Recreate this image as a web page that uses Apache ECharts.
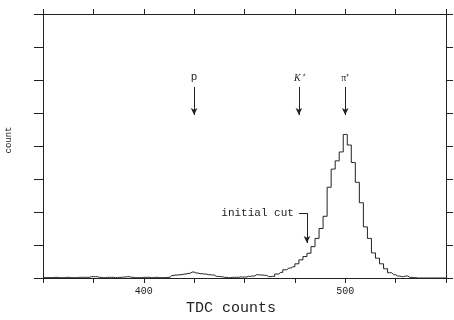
<!DOCTYPE html>
<html>
<head>
<meta charset="utf-8">
<script src="https://cdn.jsdelivr.net/npm/echarts@6/dist/echarts.min.js"></script>
<style>html,body{margin:0;padding:0;background:#fff}#c{width:454px;height:320px}</style>
</head>
<body>
<div id="c"></div>
<script>
// TDC bin centres (2 counts wide)
const tdcBins = [350,352,354,356,358,360,362,364,366,368,370,372,374,376,378,380,382,384,386,388,
  390,392,394,396,398,400,402,404,406,408,410,412,414,416,418,420,422,424,426,428,
  430,432,434,436,438,440,442,444,446,448,450,452,454,456,458,460,462,464,466,468,
  470,472,474,476,478,480,482,484,486,488,490,492,494,496,498,500,502,504,506,508,
  510,512,514,516,518,520,522,524,526,528,530,532,534,536,538,540,542,544,546,548,550];
// counts per bin (arbitrary units, one y tick = 100)
const counts = [1,1,1,2,1,1,2,1,1,2,2,2,4,4,2,1,2,2,1,2,
  3,4,2,1,1,2,2,1,2,1,1,2,8,9,10,12,14,18,15,13,
  12,10,9,5,4,2,1,2,2,3,3,5,6,10,9,8,4,5,12,17,
  25,30,34,43,55,65,75,95,120,150,187,275,330,355,382,435,403,350,290,228,
  155,120,76,60,43,28,16,10,6,4,6,2,1,0,0,0,0,0,0,0,0];
const xTickLabels = [400, 500];

// particle markers: [label, x]
const markerNames = ['p', 'K\u207A', '\u03C0\u207A'];
const markerX = [425, 477, 500];
const arrowTopY = 579, arrowTipY = 494;
// "initial cut" annotation
const cutText = 'initial cut';
const cutLine = [[477, 197], [481, 197], [481, 106]];

const ink = '#222';
const mono = '"Liberation Mono", "DejaVu Sans Mono", monospace';

const markData = markerNames.map((n, i) => [
  {coord: [markerX[i], arrowTopY], symbol: 'none',
   label: {show: true, position: 'start', formatter: n, distance: 4,
     color: ink, fontSize: i === 0 ? 11 : 10,
     fontFamily: i === 0 ? mono : '"Liberation Serif", serif',
     fontStyle: i === 1 ? 'italic' : 'normal'}},
  {coord: [markerX[i], arrowTipY], symbol: 'arrow'}
]);
markData.push([
  {coord: cutLine[0], symbol: 'none',
   label: {show: true, position: 'start', formatter: cutText, distance: 5,
     color: ink, fontSize: 11, fontFamily: mono}},
  {coord: cutLine[1], symbol: 'none'}
]);
markData.push([
  {coord: cutLine[1], symbol: 'none', label: {show: false}},
  {coord: cutLine[2], symbol: 'arrow'}
]);

const chart = echarts.init(document.getElementById('c'), null, {renderer: 'canvas'});
const axisLineStyle = {color: ink, width: 1};
chart.setOption({
  animation: false,
  backgroundColor: '#fff',
  grid: {left: 43, right: 8, top: 14, bottom: 42, containLabel: false, outerBoundsMode: 'none'},
  xAxis: [{
    type: 'value', min: 350, max: 550, interval: 25, position: 'bottom',
    axisLine: {show: true, onZero: false, lineStyle: axisLineStyle},
    axisTick: {show: true, inside: false, length: 5, lineStyle: axisLineStyle},
    splitLine: {show: false},
    axisLabel: {margin: 8, fontSize: 10, fontFamily: mono, color: ink,
      formatter: v => xTickLabels.indexOf(v) >= 0 ? String(v) : ''},
    name: 'TDC counts', nameLocation: 'middle', nameGap: 22,
    nameTextStyle: {fontSize: 15, fontFamily: mono, color: ink, padding: [0, 27, 0, 0]}
  }, {
    type: 'value', min: 350, max: 550, interval: 25, position: 'top',
    axisLine: {show: true, onZero: false, lineStyle: axisLineStyle},
    axisTick: {show: true, inside: false, length: 5, lineStyle: axisLineStyle},
    splitLine: {show: false}, axisLabel: {show: false}
  }],
  yAxis: [{
    type: 'value', min: 0, max: 800, interval: 100, position: 'left',
    axisLine: {show: true, onZero: false, lineStyle: axisLineStyle},
    axisTick: {show: true, inside: false, length: 9, lineStyle: axisLineStyle},
    splitLine: {show: false}, axisLabel: {show: false},
    name: 'count', nameLocation: 'middle', nameGap: 30, nameRotate: 90,
    nameTextStyle: {fontSize: 9, fontFamily: mono, color: ink, padding: [0, 0, 0, 12]}
  }, {
    type: 'value', min: 0, max: 800, interval: 100, position: 'right',
    axisLine: {show: true, onZero: false, lineStyle: axisLineStyle},
    axisTick: {show: true, inside: false, length: 7, lineStyle: axisLineStyle},
    splitLine: {show: false}, axisLabel: {show: false}
  }],
  series: [{
    type: 'line', step: 'middle', showSymbol: false, symbol: 'none',
    xAxisIndex: 0, yAxisIndex: 0,
    lineStyle: {color: ink, width: 1},
    data: tdcBins.map((x, i) => [x, counts[i]]),
    markLine: {
      silent: true, animation: false,
      symbolSize: [5, 7],
      lineStyle: {color: ink, width: 1, type: 'solid'},
      emphasis: {disabled: true},
      data: markData
    }
  }]
});
</script>
</body>
</html>
